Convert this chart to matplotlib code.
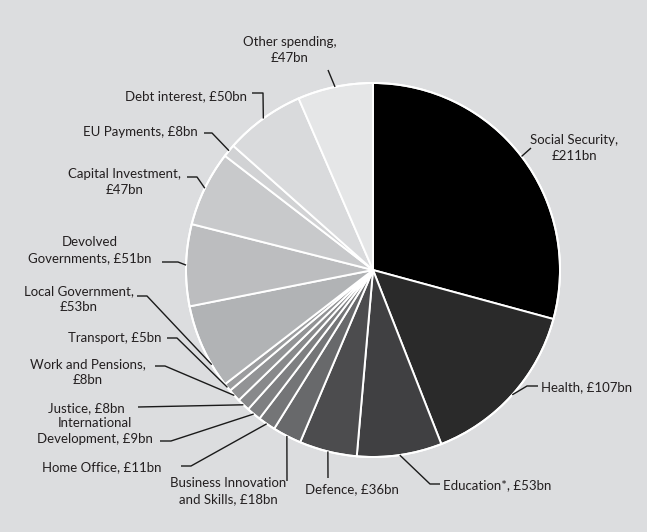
import numpy as np
import matplotlib.pyplot as plt

# government spending by department, £bn (clockwise from 12 o'clock)
names = ['Social Security,\n£211bn', 'Health, £107bn', 'Education*, £53bn',
         'Defence, £36bn', 'Business Innovation\nand Skills, £18bn',
         'Home Office, £11bn', 'International\nDevelopment, £9bn',
         'Justice, £8bn', 'Work and Pensions,\n£8bn', 'Transport, £5bn',
         'Local Government,\n£53bn', 'Devolved\nGovernments, £51bn',
         'Capital Investment,\n£47bn', 'EU Payments, £8bn',
         'Debt interest, £50bn', 'Other spending,\n£47bn']
values = [211, 107, 53, 36, 18, 11, 9, 8, 8, 5, 53, 51, 47, 8, 50, 47]
shades = ['#000000', '#2a2a2a', '#404042', '#4c4c4e', '#68696b', '#747577',
          '#7e7f81', '#88898b', '#929395', '#9b9c9e', '#b1b3b5', '#bcbdbf',
          '#c8c9cb', '#d1d2d4', '#d9dadc', '#e5e6e7']

W, H = 647, 532
cx, cy, r = 373, 270, 187   # pixel coords, y measured from the top

# text x, text y, alignment, leader points after the arc anchor, angle shift
layout = [
    (574, 148, 'center', [(531, 148)], 0),
    (541, 387, 'left', [(527, 386), (538, 386)], 0),
    (443, 485, 'left', [(430, 484), (440, 484)], 0),
    (352, 489, 'center', [(328, 478)], 0),
    (228, 491, 'center', [(287, 481)], 0),
    (161, 467, 'right', [(191, 466), (181, 466)], 0),
    (95, 431, 'center', [(171, 441), (160, 441)], 0),
    (125, 408, 'right', [(138, 407)], 0),
    (88, 372, 'center', [(165, 366), (155, 366)], 0),
    (161, 338, 'right', [(177, 338), (167, 338)], 0),
    (79, 299, 'center', [(147, 296), (137, 296)], 6),
    (90, 250, 'center', [(178, 262), (162, 262)], 0),
    (125, 182, 'center', [(197, 177), (187, 177)], 0),
    (198, 132, 'right', [(212, 133), (204, 133)], 0),
    (247, 96, 'right', [(263, 93), (252, 93)], 0),
    (290, 50, 'center', [(328, 70)], 0),
]

def fy(y):
    return H - y

plt.rcParams['font.family'] = ['Lato', 'DejaVu Sans']

fig = plt.figure(figsize=(W / 100, H / 100), dpi=100, facecolor='#dcdddf')
ax = fig.add_axes([0, 0, 1, 1])
ax.set_facecolor('#dcdddf')

wedges, _ = ax.pie(values, colors=shades, startangle=90, counterclock=False,
                   center=(cx, fy(cy)), radius=r,
                   wedgeprops=dict(edgecolor='white', linewidth=1.4))
# white rim round the whole pie
ax.add_patch(plt.Circle((cx, fy(cy)), r, fill=False, ec='white', lw=1.4, zorder=3))

for w, name, (tx, ty, ha, pts, shift) in zip(wedges, names, layout):
    mid = np.radians((w.theta1 + w.theta2) / 2 + shift)
    ax_ = cx + r * np.cos(mid)
    ay_ = fy(cy) + r * np.sin(mid)
    xs = [ax_] + [p[0] for p in pts]
    ys = [ay_] + [fy(p[1]) for p in pts]
    ax.plot(xs, ys, color='#1a1a1a', lw=1.0, solid_capstyle='butt', zorder=4)
    ax.text(tx, fy(ty), name, ha=ha, va='center', multialignment='center',
            fontsize=9.5, color='#231f20', linespacing=1.45)

ax.set_xlim(0, W)
ax.set_ylim(0, H)
ax.set_aspect('equal')
ax.axis('off')

fig.savefig('out.png', dpi=100, facecolor=fig.get_facecolor())
